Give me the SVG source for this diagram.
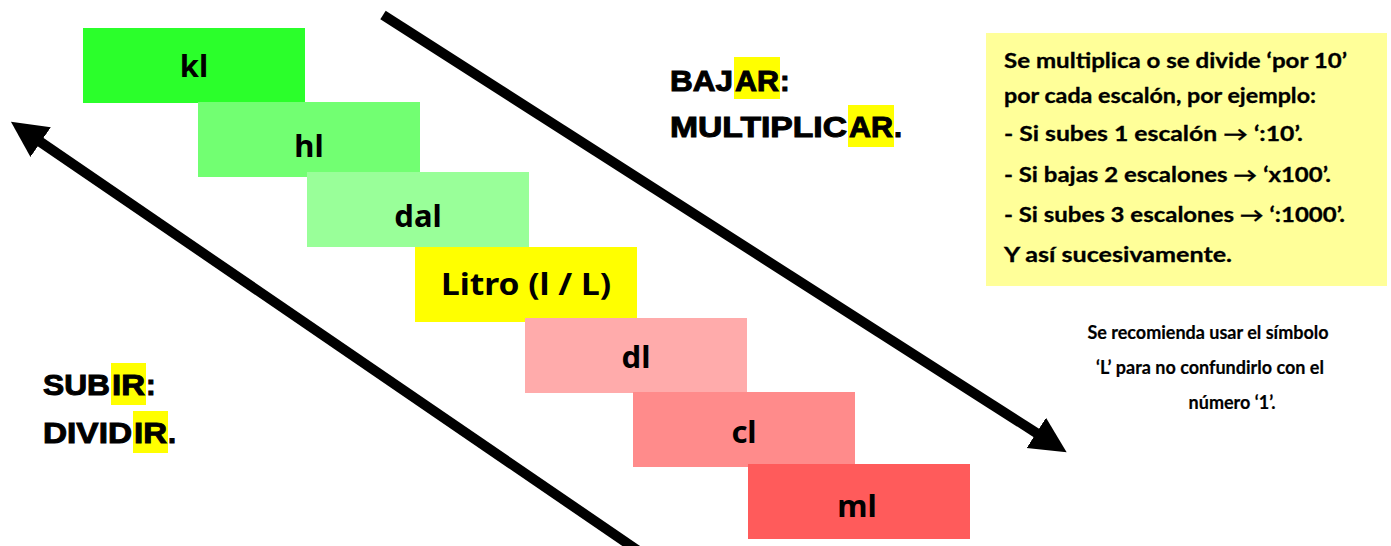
<svg xmlns="http://www.w3.org/2000/svg" width="1391" height="546" viewBox="0 0 1391 546">
<style>
.lbl{font-family:"Noto Sans","DejaVu Sans",sans-serif;font-weight:bold;font-size:31px;fill:#000;text-anchor:middle}
.big{font-family:"Liberation Sans",Arial,sans-serif;font-weight:bold;font-size:29px;fill:#000;stroke:#000;stroke-width:1}
.hl{fill:#FFFF00}
.info{font-family:Lato,"Open Sans","DejaVu Sans",sans-serif;font-weight:bold;font-size:20px;fill:#000;stroke:#000;stroke-width:0.3}
.note{font-family:Lato,"Open Sans","DejaVu Sans",sans-serif;font-weight:bold;font-size:18px;fill:#000;text-anchor:middle;stroke:#000;stroke-width:0.2}
.shaft{stroke:#000;stroke-width:10;fill:none}
</style>
<defs>
<marker id="ah" markerUnits="userSpaceOnUse" markerWidth="40" markerHeight="40" refX="2" refY="18" orient="auto">
<path d="M0,0 L36,18 L0,36 z" fill="#000"/>
</marker>
</defs>
<rect width="1391" height="546" fill="#fff"/>
<g id="connectors">
<line class="shaft" x1="383" y1="15" x2="1038" y2="434" marker-end="url(#ah)"/>
<line class="shaft" x1="640" y1="552" x2="39" y2="141" marker-end="url(#ah)"/>
</g>
<g id="kl"><rect x="83" y="28" width="222" height="75" fill="#2BFF2B"/><text class="lbl" x="194" y="77">kl</text></g>
<g id="hl"><rect x="198" y="102" width="222" height="75" fill="#72FF72"/><text class="lbl" x="309" y="157">hl</text></g>
<g id="dal"><rect x="307" y="172" width="222" height="75" fill="#99FF99"/><text class="lbl" x="418" y="227">dal</text></g>
<g id="litro"><rect x="415" y="247" width="222" height="75" fill="#FFFF00"/><text class="lbl" x="526" y="295" textLength="170" lengthAdjust="spacingAndGlyphs">Litro (l / L)</text></g>
<g id="dl"><rect x="525" y="318" width="222" height="75" fill="#FFABAB"/><text class="lbl" x="636" y="368">dl</text></g>
<g id="cl"><rect x="633" y="392" width="222" height="75" fill="#FF8B8B"/><text class="lbl" x="744" y="443">cl</text></g>
<g id="ml"><rect x="748" y="464" width="222" height="75" fill="#FF5B5B"/><text class="lbl" x="857" y="517">ml</text></g>
<g id="bajar">
<rect class="hl" x="734" y="57" width="46" height="42"/>
<rect class="hl" x="848" y="105" width="46" height="42"/>
<text class="big" x="670" y="91" textLength="63" lengthAdjust="spacingAndGlyphs">BAJ</text>
<text class="big" x="735" y="91" textLength="44" lengthAdjust="spacingAndGlyphs">AR</text>
<text class="big" x="780" y="91">:</text>
<text class="big" x="670" y="137" textLength="177" lengthAdjust="spacingAndGlyphs">MULTIPLIC</text>
<text class="big" x="849" y="137" textLength="44" lengthAdjust="spacingAndGlyphs">AR</text>
<text class="big" x="894" y="137">.</text>
</g>
<g id="subir">
<rect class="hl" x="111" y="363" width="35" height="42"/>
<rect class="hl" x="133" y="411" width="35" height="42"/>
<text class="big" x="43" y="395" textLength="67" lengthAdjust="spacingAndGlyphs">SUB</text>
<text class="big" x="112" y="395" textLength="33" lengthAdjust="spacingAndGlyphs">IR</text>
<text class="big" x="146" y="395">:</text>
<text class="big" x="43" y="443" textLength="89" lengthAdjust="spacingAndGlyphs">DIVID</text>
<text class="big" x="134" y="443" textLength="33" lengthAdjust="spacingAndGlyphs">IR</text>
<text class="big" x="168" y="443">.</text>
</g>
<g id="info">
<rect x="986" y="33" width="401" height="253" fill="#FFFF99"/>
<text class="info" x="1004" y="68" textLength="343" lengthAdjust="spacingAndGlyphs">Se multiplica o se divide ‘por 10’</text>
<text class="info" x="1004" y="103" textLength="312" lengthAdjust="spacingAndGlyphs">por cada escalón, por ejemplo:</text>
<text class="info" x="1004" y="141" textLength="299" lengthAdjust="spacingAndGlyphs">- Si subes 1 escalón → ‘:10’.</text>
<text class="info" x="1004" y="182" textLength="327" lengthAdjust="spacingAndGlyphs">- Si bajas 2 escalones  →  ‘x100’.</text>
<text class="info" x="1004" y="222" textLength="341" lengthAdjust="spacingAndGlyphs">- Si subes 3 escalones  →  ‘:1000’.</text>
<text class="info" x="1004" y="262" textLength="228" lengthAdjust="spacingAndGlyphs">Y así sucesivamente.</text>
</g>
<g id="note">
<text class="note" x="1208" y="339">Se recomienda usar el símbolo</text>
<text class="note" x="1210" y="374">‘L’ para no confundirlo con el</text>
<text class="note" x="1232" y="409">número ‘1’.</text>
</g>
</svg>
